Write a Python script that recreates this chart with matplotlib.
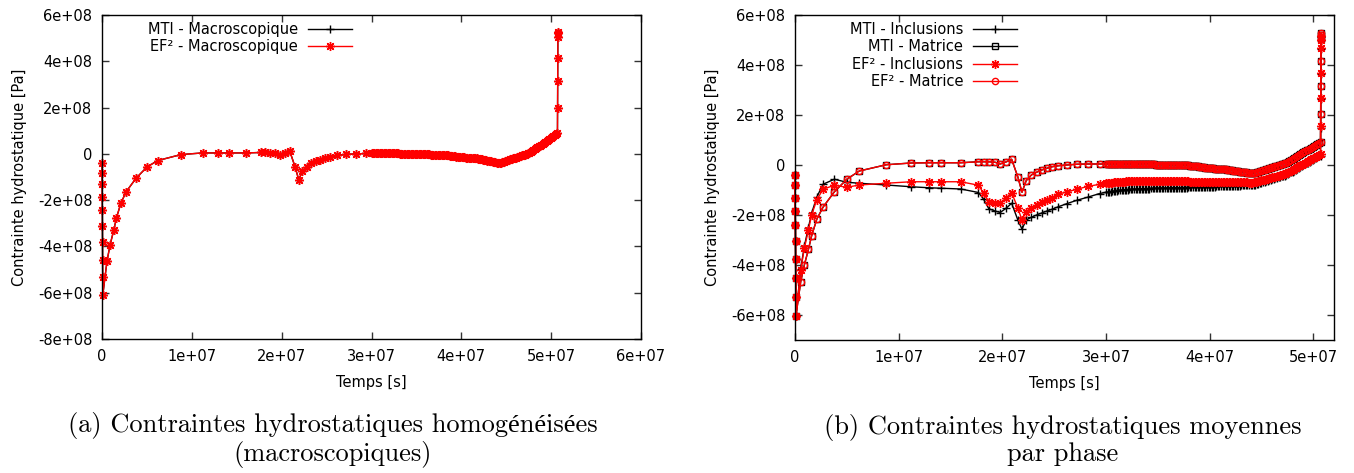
import matplotlib
matplotlib.use("Agg")
import matplotlib.pyplot as plt
from matplotlib.ticker import FuncFormatter, MultipleLocator

# ---------------- DATA (time in 1e7 s, stress in 1e8 Pa) ----------------
t_charge = [0.000, 0.001, 0.002, 0.003, 0.004, 0.005, 0.006, 0.007, 0.008, 0.009]
t_relax = [0.055, 0.09, 0.13, 0.16, 0.21, 0.27, 0.38, 0.50, 0.62, 0.88,
           1.12, 1.29, 1.41, 1.60, 1.77, 1.82, 1.87, 1.93, 1.98, 2.04,
           2.09, 2.15, 2.19, 2.23, 2.28, 2.33, 2.38, 2.43, 2.48, 2.54,
           2.62, 2.72, 2.83, 2.94]
t_dense = [3.000, 3.015, 3.030, 3.045, 3.060, 3.075, 3.090, 3.105, 3.120, 3.135,
           3.150, 3.165, 3.180, 3.195, 3.210, 3.225, 3.240, 3.255, 3.270, 3.285,
           3.300, 3.315, 3.330, 3.345, 3.360, 3.375, 3.390, 3.405, 3.420, 3.435,
           3.450, 3.465, 3.480, 3.495, 3.510, 3.525, 3.540, 3.555, 3.570, 3.585,
           3.600, 3.615, 3.630, 3.645, 3.660, 3.675, 3.690, 3.705, 3.720, 3.735,
           3.750, 3.765, 3.780, 3.795, 3.810, 3.825, 3.840, 3.855, 3.870, 3.885,
           3.900, 3.915, 3.930, 3.945, 3.960, 3.975, 3.990, 4.005, 4.020, 4.035,
           4.050, 4.065, 4.080, 4.095, 4.110, 4.125, 4.140, 4.155, 4.170, 4.185,
           4.200, 4.215, 4.230, 4.245, 4.260, 4.275, 4.290, 4.305, 4.320, 4.335,
           4.350, 4.365, 4.380, 4.395, 4.410, 4.425, 4.440, 4.455, 4.470, 4.485,
           4.500, 4.515, 4.530, 4.545, 4.560, 4.575, 4.590, 4.605, 4.620, 4.635,
           4.650, 4.665, 4.680, 4.695, 4.710, 4.725, 4.740, 4.755, 4.770, 4.785,
           4.800, 4.815, 4.830, 4.845, 4.860, 4.875, 4.890, 4.905, 4.920, 4.935,
           4.950, 4.965, 4.980, 4.995, 5.010, 5.025, 5.040, 5.055, 5.070]
t_decharge = [5.071, 5.072, 5.073, 5.074, 5.075, 5.076]

# (a) macroscopic
macro_charge = [-0.39, -0.82, -1.30, -1.86, -2.42, -3.10, -3.80, -4.58, -5.30, -6.10]
macro_relax = [-4.65, -3.93, -3.31, -2.78, -2.13, -1.63, -1.05, -0.57, -0.29, -0.03,
               0.04, 0.04, 0.04, 0.04, 0.06, 0.06, 0.04, 0.02, -0.03, 0.04,
               0.12, -0.57, -1.12, -0.76, -0.55, -0.40, -0.31, -0.25, -0.19, -0.13,
               -0.07, -0.02, 0.00, 0.02]
macro_dense = [0.03, 0.03, 0.03, 0.03, 0.03, 0.03, 0.03, 0.03, 0.03, 0.03,
               0.03, 0.03, 0.03, 0.03, 0.03, 0.025, 0.02, 0.02, 0.02, 0.02,
               0.02, 0.015, 0.01, 0.01, 0.01, 0.005, 0.0, 0.0, 0.0, 0.0,
               0.0, -0.005, -0.01, -0.01, -0.01, -0.01, -0.01, -0.015, -0.02, -0.02,
               -0.02, -0.02, -0.02, -0.025, -0.03, -0.03, -0.03, -0.03, -0.03, -0.035,
               -0.04, -0.04, -0.04, -0.045, -0.05, -0.055, -0.06, -0.07, -0.08, -0.085,
               -0.09, -0.10, -0.11, -0.115, -0.12, -0.13, -0.14, -0.145, -0.15, -0.155,
               -0.16, -0.165, -0.17, -0.175, -0.18, -0.185, -0.19, -0.195, -0.20, -0.205,
               -0.21, -0.225, -0.24, -0.25, -0.26, -0.275, -0.29, -0.30, -0.31, -0.325,
               -0.34, -0.35, -0.36, -0.375, -0.39, -0.395, -0.38, -0.36, -0.34, -0.32,
               -0.30, -0.28, -0.26, -0.24, -0.22, -0.20, -0.18, -0.16, -0.14, -0.125,
               -0.11, -0.09, -0.07, -0.05, -0.03, -0.005, 0.02, 0.05, 0.08, 0.12,
               0.16, 0.20, 0.24, 0.28, 0.32, 0.36, 0.40, 0.44, 0.48, 0.52,
               0.56, 0.60, 0.64, 0.68, 0.72, 0.76, 0.80, 0.84, 0.88]
macro_decharge = [2.00, 3.15, 4.13, 5.07, 5.21, 5.27]

# (b) per phase
phase_charge = [-0.40, -0.80, -1.31, -1.83, -2.41, -3.04, -3.76, -4.53, -5.27, -6.04]

matrice_relax = [-4.67, -4.00, -3.37, -2.84, -2.17, -1.69, -1.07, -0.57, -0.24, 0.01,
                 0.08, 0.09, 0.09, 0.09, 0.13, 0.13, 0.13, 0.11, 0.04, 0.13,
                 0.23, -0.48, -1.09, -0.63, -0.40, -0.29, -0.20, -0.13, -0.07, -0.03,
                 0.00, 0.03, 0.04, 0.04]
matrice_dense = [0.04, 0.04, 0.04, 0.04, 0.04, 0.04, 0.04, 0.04, 0.04, 0.04,
                 0.04, 0.04, 0.04, 0.04, 0.04, 0.04, 0.04, 0.04, 0.04, 0.04,
                 0.04, 0.04, 0.04, 0.035, 0.03, 0.03, 0.03, 0.03, 0.03, 0.03,
                 0.03, 0.025, 0.02, 0.02, 0.02, 0.02, 0.02, 0.02, 0.02, 0.015,
                 0.01, 0.01, 0.01, 0.01, 0.01, 0.01, 0.01, 0.005, 0.0, 0.0,
                 0.0, 0.0, 0.0, -0.01, -0.02, -0.025, -0.03, -0.04, -0.05, -0.055,
                 -0.06, -0.07, -0.08, -0.09, -0.10, -0.11, -0.12, -0.125, -0.13, -0.135,
                 -0.14, -0.145, -0.15, -0.155, -0.16, -0.165, -0.17, -0.175, -0.18, -0.19,
                 -0.20, -0.21, -0.22, -0.23, -0.24, -0.25, -0.26, -0.27, -0.28, -0.285,
                 -0.29, -0.30, -0.31, -0.32, -0.33, -0.32, -0.31, -0.29, -0.27, -0.25,
                 -0.23, -0.21, -0.19, -0.17, -0.15, -0.13, -0.11, -0.09, -0.07, -0.05,
                 -0.03, -0.01, 0.01, 0.03, 0.05, 0.07, 0.09, 0.13, 0.17, 0.205,
                 0.24, 0.28, 0.32, 0.36, 0.40, 0.435, 0.47, 0.51, 0.55, 0.585,
                 0.62, 0.66, 0.70, 0.74, 0.78, 0.815, 0.85, 0.89, 0.93]
matrice_decharge = [2.03, 3.16, 4.17, 5.03, 5.20, 5.27]

incl_mti_relax = [-4.15, -3.25, -2.50, -1.93, -1.29, -0.77, -0.57, -0.69, -0.73, -0.80,
                  -0.87, -0.91, -0.93, -0.96, -1.10, -1.37, -1.75, -1.84, -1.90, -1.72,
                  -1.53, -2.20, -2.57, -2.20, -2.09, -2.00, -1.92, -1.84, -1.77, -1.67,
                  -1.55, -1.41, -1.28, -1.14]
incl_mti_dense = [-1.09, -1.08, -1.07, -1.06, -1.05, -1.04, -1.03, -1.02, -1.01, -1.005,
                  -1.00, -0.995, -0.99, -0.985, -0.98, -0.975, -0.97, -0.965, -0.96, -0.96,
                  -0.96, -0.955, -0.95, -0.95, -0.95, -0.945, -0.94, -0.94, -0.94, -0.935,
                  -0.93, -0.93, -0.93, -0.93, -0.93, -0.925, -0.92, -0.92, -0.92, -0.92,
                  -0.92, -0.915, -0.91, -0.91, -0.91, -0.91, -0.91, -0.905, -0.90, -0.90,
                  -0.90, -0.90, -0.90, -0.895, -0.89, -0.89, -0.89, -0.89, -0.89, -0.885,
                  -0.88, -0.88, -0.88, -0.875, -0.87, -0.87, -0.87, -0.865, -0.86, -0.86,
                  -0.86, -0.855, -0.85, -0.85, -0.85, -0.845, -0.84, -0.84, -0.84, -0.835,
                  -0.83, -0.83, -0.83, -0.825, -0.82, -0.82, -0.82, -0.815, -0.81, -0.81,
                  -0.81, -0.805, -0.80, -0.80, -0.80, -0.79, -0.78, -0.765, -0.75, -0.73,
                  -0.71, -0.69, -0.67, -0.65, -0.63, -0.61, -0.59, -0.57, -0.55, -0.53,
                  -0.51, -0.49, -0.47, -0.455, -0.44, -0.42, -0.40, -0.365, -0.33, -0.295,
                  -0.26, -0.225, -0.19, -0.15, -0.11, -0.075, -0.04, -0.005, 0.03, 0.065,
                  0.10, 0.135, 0.17, 0.205, 0.24, 0.275, 0.31, 0.345, 0.38]
incl_mti_decharge = [1.50, 2.62, 3.62, 4.65, 4.98, 5.13]

incl_ef_relax = [-4.20, -3.33, -2.60, -2.00, -1.40, -0.97, -0.81, -0.89, -0.80, -0.73,
                 -0.67, -0.67, -0.67, -0.67, -0.81, -1.13, -1.47, -1.50, -1.52, -1.31,
                 -1.10, -1.73, -2.20, -1.87, -1.73, -1.60, -1.49, -1.39, -1.30, -1.16,
                 -1.08, -0.97, -0.85, -0.77]
incl_ef_dense = [-0.73, -0.72, -0.71, -0.705, -0.70, -0.695, -0.69, -0.685, -0.68, -0.675,
                 -0.67, -0.665, -0.66, -0.655, -0.65, -0.65, -0.65, -0.65, -0.65, -0.65,
                 -0.65, -0.65, -0.65, -0.65, -0.65, -0.65, -0.65, -0.65, -0.65, -0.65,
                 -0.65, -0.65, -0.65, -0.65, -0.65, -0.65, -0.65, -0.65, -0.65, -0.65,
                 -0.65, -0.65, -0.65, -0.65, -0.65, -0.65, -0.65, -0.65, -0.65, -0.65,
                 -0.65, -0.65, -0.65, -0.655, -0.66, -0.66, -0.66, -0.66, -0.66, -0.66,
                 -0.66, -0.66, -0.66, -0.665, -0.67, -0.67, -0.67, -0.67, -0.67, -0.67,
                 -0.67, -0.67, -0.67, -0.67, -0.67, -0.675, -0.68, -0.68, -0.68, -0.68,
                 -0.68, -0.68, -0.68, -0.685, -0.69, -0.69, -0.69, -0.69, -0.69, -0.69,
                 -0.69, -0.695, -0.70, -0.70, -0.70, -0.69, -0.68, -0.665, -0.65, -0.63,
                 -0.61, -0.595, -0.58, -0.565, -0.55, -0.53, -0.51, -0.495, -0.48, -0.46,
                 -0.44, -0.425, -0.41, -0.39, -0.37, -0.35, -0.33, -0.295, -0.26, -0.225,
                 -0.19, -0.155, -0.12, -0.085, -0.05, -0.015, 0.02, 0.055, 0.09, 0.125,
                 0.16, 0.195, 0.23, 0.265, 0.30, 0.335, 0.37, 0.405, 0.44]
incl_ef_decharge = [1.56, 2.67, 3.67, 4.69, 5.00, 5.15]

labels_a = ["MTI - Macroscopique", "EF² - Macroscopique"]
labels_b = ["MTI - Inclusions", "MTI - Matrice", "EF² - Inclusions", "EF² - Matrice"]
caption_a = "(a) Contraintes hydrostatiques homogénéisées\n(macroscopiques)"
caption_b = "(b) Contraintes hydrostatiques moyennes\npar phase"
xlabel = "Temps [s]"
ylabel = "Contrainte hydrostatique [Pa]"

# ---------------- assemble ----------------
T_UNIT = 1e7
S_UNIT = 1e8
temps = [v * T_UNIT for v in t_charge + t_relax + t_dense + t_decharge]
macro = [v * S_UNIT for v in macro_charge + macro_relax + macro_dense + macro_decharge]
matrice = [v * S_UNIT for v in phase_charge + matrice_relax + matrice_dense + matrice_decharge]
incl_mti = [v * S_UNIT for v in phase_charge + incl_mti_relax + incl_mti_dense + incl_mti_decharge]
incl_ef = [v * S_UNIT for v in phase_charge + incl_ef_relax + incl_ef_dense + incl_ef_decharge]

# ---------------- plotting ----------------
plt.rcParams['font.family'] = ['DejaVu Sans']
W, H = 1354, 473
fig = plt.figure(figsize=(W / 100, H / 100), dpi=100)

def ax_rect(l, r, t, b):
    return [l / W, 1 - b / H, (r - l) / W, (b - t) / H]

ax1 = fig.add_axes(ax_rect(102, 641, 15, 339))
ax2 = fig.add_axes(ax_rect(795, 1334, 15, 340))

def fmt(v, pos):
    if abs(v) < 1e-6:
        return "0"
    return f"{v:.0e}"

ASTER = (8, 2, 0)
RED = "#ff0000"
lw = 1.0
common = dict(lw=lw, clip_on=False)

ax1.plot(temps, macro, color="black", marker="+", ms=6, mew=1.0, label=labels_a[0], **common)
ax1.plot(temps, macro, color=RED, marker=ASTER, ms=6.5, mew=1.0, label=labels_a[1], **common)

ax2.plot(temps, incl_mti, color="black", marker="+", ms=6, mew=1.0, label=labels_b[0], **common)
ax2.plot(temps, matrice, color="black", marker="s", ms=5, mew=1.0, mfc="none", label=labels_b[1], **common)
ax2.plot(temps, incl_ef, color=RED, marker=ASTER, ms=6.5, mew=1.0, label=labels_b[2], **common)
ax2.plot(temps, matrice, color=RED, marker="o", ms=4.5, mew=1.0, mfc="none", label=labels_b[3], **common)

ax1.set_xlim(0, 6e7)
ax1.set_ylim(-8e8, 6e8)
ax2.set_xlim(0, 5.2e7)
ax2.set_ylim(-7e8, 6e8)

for ax in (ax1, ax2):
    ax.xaxis.set_major_locator(MultipleLocator(1e7))
    ax.yaxis.set_major_locator(MultipleLocator(2e8))
    ax.xaxis.set_major_formatter(FuncFormatter(fmt))
    ax.yaxis.set_major_formatter(FuncFormatter(fmt))
    ax.tick_params(direction="in", top=True, right=True, length=5, width=1.0,
                   labelsize=10.5, pad=7, color="#333333")
    for sp in ax.spines.values():
        sp.set_linewidth(1.0)
        sp.set_color("black")
        sp.set_zorder(3)
    ax.set_xlabel(xlabel, fontsize=10.5)
    ax.set_ylabel(ylabel, fontsize=10.5)
    ax.yaxis.set_label_coords(-0.140, 0.5)
    ax.xaxis.set_label_coords(0.5, -0.11)

leg_kw = dict(bbox_transform=fig.transFigure, frameon=False, markerfirst=False,
              fontsize=10.5, handlelength=3.0, handletextpad=0.7,
              labelspacing=0.16, borderpad=0, borderaxespad=0, numpoints=1)
ax1.legend(loc="upper right", bbox_to_anchor=(352 / W, 1 - 22 / H), **leg_kw)
ax2.legend(loc="upper right", bbox_to_anchor=(1017 / W, 1 - 22 / H), **leg_kw)

cap_font = dict(family=['cmr10', 'Liberation Serif'], fontsize=19, ha="center",
                va="center", linespacing=1.12)
fig.text(333 / W, 1 - 440 / H, caption_a, **cap_font)
fig.text(1063 / W, 1 - 440 / H, caption_b, **cap_font)

fig.savefig("out.png", dpi=100)
